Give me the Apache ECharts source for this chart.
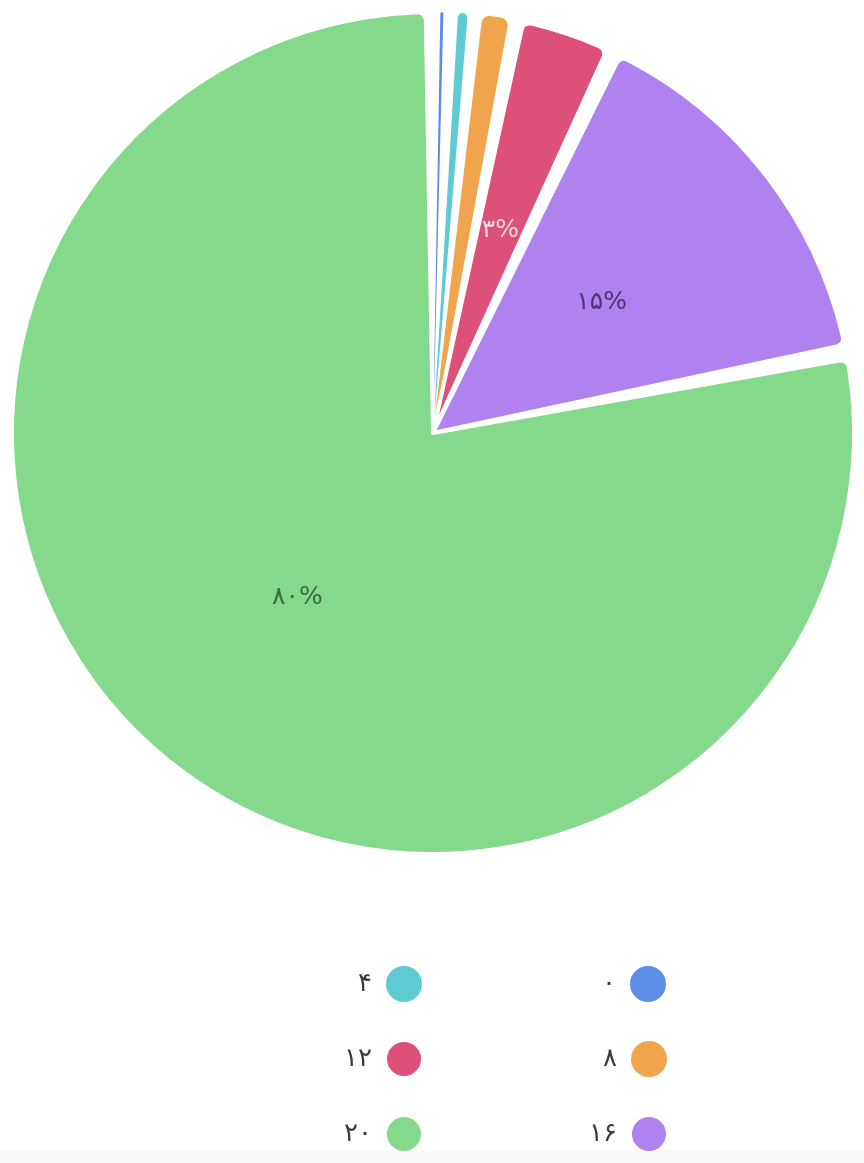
<!DOCTYPE html>
<html>
<head>
<meta charset="utf-8">
<script src="https://cdn.jsdelivr.net/npm/echarts@6/dist/echarts.min.js"></script>
<style>
html,body{margin:0;padding:0;background:#fff;}
#c{width:864px;height:1163px;}
</style>
</head>
<body>
<div id="c"></div>
<script>
// Data
const categories = ['0', '4', '8', '12', '16', '20'];
const values = [0.12, 0.38, 1.05, 3.45, 14.8, 80.2];
const colors = ['#5E8DE6', '#5ECAD3', '#F0A44C', '#DC5079', '#AF82EF', '#84D98A'];
const labelColors = ['#2c3e66', '#2a5a5e', '#6b4a20', '#F8D6E1', '#4E3372', '#3C6A40'];
const legendOrder = ['4', '0', '12', '8', '20', '16'];

const fa = s => String(s).replace(/[0-9]/g, d => '۰۱۲۳۴۵۶۷۸۹'[d]);
const FONT = '"DejaVu Sans", "Noto Sans", sans-serif';

const total = values.reduce((a, b) => a + b, 0);
// transparent spacer sectors between slices (visual gap, in degrees)
const gapDeg = 2.0;
const n = values.length;
const gapVal = gapDeg * total / (360 - n * gapDeg);
const bigBorder = v => (v / total) >= 0.02;

const pieData = [];
const spacer = v => ({
  name: '', value: v,
  itemStyle: {color: 'rgba(0,0,0,0)', borderWidth: 0},
  label: {show: false}, labelLine: {show: false},
  tooltip: {show: false}
});
pieData.push(spacer(gapVal / 2));
categories.forEach((c, i) => {
  if (i > 0) pieData.push(spacer(gapVal));
  pieData.push({
    name: c,
    value: values[i],
    itemStyle: {
      color: colors[i],
      borderColor: '#ffffff',
      borderWidth: bigBorder(values[i]) ? 4 : 0
    },
    label: {color: labelColors[i]}
  });
});
pieData.push(spacer(gapVal / 2));

const chart = echarts.init(document.getElementById('c'), null, {renderer: 'canvas'});
chart.setOption({
  backgroundColor: '#ffffff',
  animation: false,
  graphic: [{
    type: 'rect', silent: true, z: -10,
    shape: {x: 0, y: 1150, width: 864, height: 13},
    style: {fill: '#fafafa'}
  }],
  legend: {
    data: legendOrder,
    left: 191,
    top: 953,
    width: 480,
    padding: 0,
    itemGap: 13,
    itemWidth: 36,
    itemHeight: 36,
    icon: 'circle',
    align: 'right',
    formatter: nm => fa(nm),
    textStyle: {
      fontFamily: FONT,
      fontSize: 26,
      color: '#3b3b45',
      width: 181,
      align: 'right',
      lineHeight: 62,
      padding: [0, 9, 0, 0]
    }
  },
  series: [{
    type: 'pie',
    center: [433, 433],
    radius: [0, 421],
    startAngle: 90,
    clockwise: true,
    avoidLabelOverlap: false,
    itemStyle: {borderRadius: 8, borderJoin: 'round'},
    label: {
      show: true,
      position: 'inside',
      fontFamily: FONT,
      fontSize: 25,
      formatter: p => {
        if (!p.name) return '';
        const pct = p.value / total * 100;
        return pct < 2 ? '' : fa(Math.round(pct)) + '%';
      }
    },
    labelLine: {show: false},
    emphasis: {disabled: true},
    data: pieData
  }]
});
</script>
</body>
</html>
